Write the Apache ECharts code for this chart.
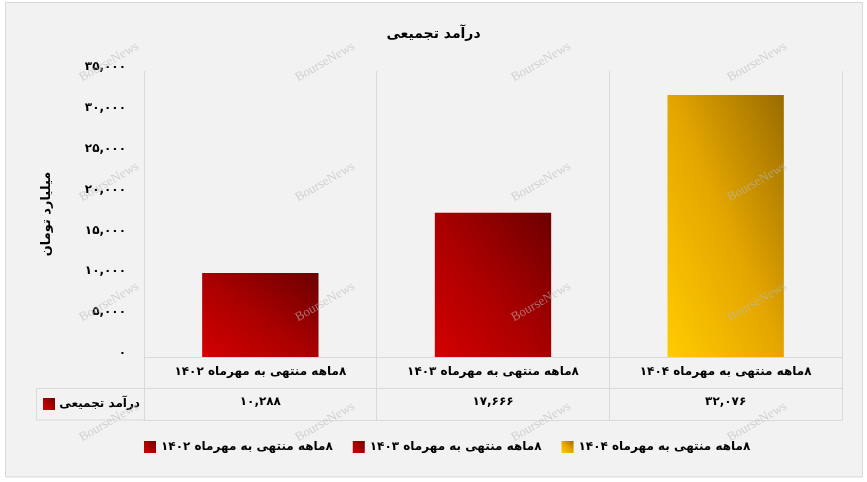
<!DOCTYPE html>
<html dir="rtl">
<head>
<meta charset="utf-8">
<script src="https://cdn.jsdelivr.net/npm/echarts@6/dist/echarts.min.js"></script>
<style>
html,body{margin:0;padding:0;background:#fff;direction:rtl;}
#chart{width:867px;height:482px;}
</style>
</head>
<body>
<div id="chart"></div>
<script>
var titleText = 'درآمد تجمیعی';
var yAxisName = 'میلیارد تومان';
var rowHeader = 'درآمد تجمیعی';
var categories = ['۸ماهه منتهی به مهرماه ۱۴۰۲', '۸ماهه منتهی به مهرماه ۱۴۰۳', '۸ماهه منتهی به مهرماه ۱۴۰۴'];
var values = [10288, 17666, 32076];
var yTicks = [0, 5000, 10000, 15000, 20000, 25000, 30000, 35000];
var watermark = 'BourseNews';

var FONT = 'DejaVu Sans';
var RED = ['#d40000', '#a80000', '#6c0000'];
var GOLD = ['#ffcc00', '#e4a600', '#9a6c00'];
var palette = [RED, RED, GOLD];

function toFa(s) {
  return String(s).replace(/\d/g, function (d) { return '۰۱۲۳۴۵۶۷۸۹'[+d]; });
}
function fmt(v) {
  return toFa(Number(v).toLocaleString('en-US'));
}
function grad(p, x2, y2) {
  return new echarts.graphic.LinearGradient(0, 1, x2 == null ? 1 : x2, y2 == null ? 0 : y2, [
    { offset: 0, color: p[0] }, { offset: 0.5, color: p[1] }, { offset: 1, color: p[2] }
  ]);
}

function buildSeries(itemColors) {
  return categories.map(function (name, i) {
    return {
      name: name,
      type: 'bar',
      barWidth: '50%',
      barGap: '-100%',
      itemStyle: { color: grad(palette[i]) },
      data: categories.map(function (c, j) {
        if (j !== i) return '-';
        return itemColors ? { value: values[i], itemStyle: { color: itemColors[i] } } : values[i];
      })
    };
  });
}

var graphics = [
  { type: 'rect', z: -10, silent: true,
    shape: { x: 5.5, y: 2.5, width: 857, height: 474.5 },
    style: { fill: '#f2f2f2', stroke: '#d9d9d9', lineWidth: 1 } },
  { type: 'rect', z: 1, silent: true,
    shape: { x: 36.5, y: 388.5, width: 108, height: 31.5 },
    style: { fill: 'none', stroke: '#d9d9d9', lineWidth: 1 } },
  { type: 'rect', z: 2, silent: true,
    shape: { x: 43, y: 398, width: 12, height: 12 },
    style: { fill: grad(RED) } },
  { type: 'text', z: 2, silent: true, x: 140, y: 404,
    style: { text: rowHeader, align: 'right', verticalAlign: 'middle',
      font: 'bold 12px "' + FONT + '"', fill: '#000' } }
];
var wmX = [109, 325, 541, 757], wmY = [62, 182, 302, 422];
wmY.forEach(function (yy) {
  wmX.forEach(function (xx) {
    graphics.push({ type: 'text', z: 100, silent: true, x: xx, y: yy, rotation: Math.PI / 6,
      style: { text: watermark, align: 'center', verticalAlign: 'middle',
        font: '13px "Liberation Serif"', fill: 'rgba(185,185,185,0.6)' } });
  });
});

var chart = echarts.init(document.getElementById('chart'));
chart.setOption({
  backgroundColor: 'transparent',
  animation: false,
  title: {
    text: titleText, left: 'center', top: 22,
    textStyle: { fontFamily: FONT, fontSize: 14, fontWeight: 'bold', color: '#000' }
  },
  legend: {
    bottom: 24, left: 139,
    itemWidth: 12, itemHeight: 12, itemGap: 20, icon: 'rect',
    textStyle: { fontFamily: FONT, fontSize: 12, fontWeight: 'bold', color: '#000' },
    data: categories
  },
  grid: { left: 144, right: 25, top: 71, bottom: 125 },
  xAxis: [
    {
      type: 'category', data: categories, position: 'bottom',
      axisLine: { show: true, lineStyle: { color: '#d9d9d9' } },
      axisTick: { show: true, length: 63, lineStyle: { color: '#d9d9d9' } },
      axisLabel: { interval: 0, margin: 9, fontFamily: FONT, fontSize: 12, fontWeight: 'bold', color: '#000' },
      splitLine: { show: true, lineStyle: { color: '#d9d9d9' } }
    },
    {
      type: 'category', data: values.map(fmt), position: 'bottom', offset: 31,
      axisLine: { show: true, lineStyle: { color: '#d9d9d9' } },
      axisTick: { show: false },
      axisLabel: { interval: 0, margin: 8, fontFamily: FONT, fontSize: 12, fontWeight: 'bold', color: '#000' },
      splitLine: { show: false }
    },
    {
      type: 'category', data: values.map(fmt), position: 'bottom', offset: 63,
      axisLine: { show: true, lineStyle: { color: '#d9d9d9' } },
      axisTick: { show: false },
      axisLabel: { show: false },
      splitLine: { show: false }
    }
  ],
  yAxis: {
    type: 'value', min: yTicks[0], max: yTicks[yTicks.length - 1], interval: yTicks[1] - yTicks[0],
    name: yAxisName, nameLocation: 'middle', nameRotate: 90, nameGap: 91,
    nameTextStyle: { fontFamily: FONT, fontSize: 13, fontWeight: 'bold', color: '#000' },
    axisLine: { show: false }, axisTick: { show: false },
    splitLine: { show: false },
    axisLabel: { margin: 18, verticalAlign: 'bottom', lineHeight: 8, fontFamily: FONT, fontSize: 12, fontWeight: 'bold', color: '#000',
      formatter: function (v) { return fmt(v); } }
  },
  graphic: graphics,
  series: buildSeries(null)
});

// Excel-style "scaled" diagonal gradient: isolines run parallel to the
// top-left / bottom-right diagonal of each bar, so compute per-bar vectors
// from the bar's pixel size as laid out by the axes.
var y0 = chart.convertToPixel({ yAxisIndex: 0 }, 0);
var xa = chart.convertToPixel({ xAxisIndex: 0 }, categories[0]);
var xb = chart.convertToPixel({ xAxisIndex: 0 }, categories[1]);
var w = Math.abs(xb - xa) * 0.5;
var itemColors = values.map(function (v, i) {
  var h = Math.abs(y0 - chart.convertToPixel({ yAxisIndex: 0 }, v));
  var s = w * w + h * h;
  return grad(palette[i], 2 * h * h / s, (h * h - w * w) / s);
});
chart.setOption({ series: buildSeries(itemColors) });
</script>
</body>
</html>
